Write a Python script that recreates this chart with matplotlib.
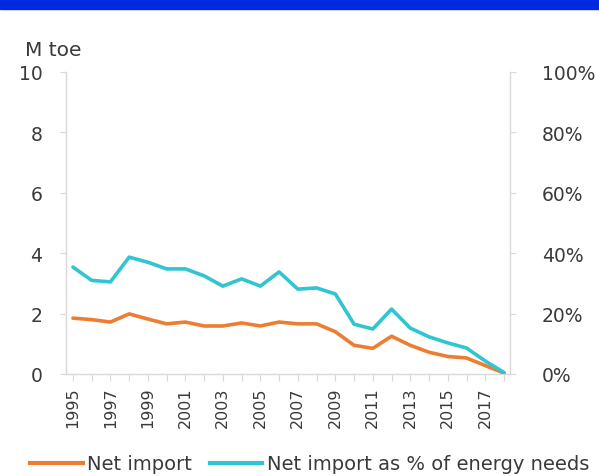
import matplotlib

matplotlib.use("Agg")

import matplotlib.pyplot as plt
from matplotlib.lines import Line2D

years = list(range(1995, 2019))
net_import = [1.85, 1.80, 1.72, 1.99, 1.82, 1.66, 1.72, 1.59, 1.59, 1.69, 1.59, 1.72,
              1.66, 1.66, 1.40, 0.95, 0.85, 1.25, 0.95, 0.72, 0.58, 0.53, 0.28, 0.03]
share_pct = [35.4, 31.0, 30.5, 38.7, 37.0, 34.8, 34.8, 32.5, 29.1, 31.5, 29.1, 33.8,
             28.1, 28.5, 26.5, 16.5, 14.9, 21.5, 15.2, 12.3, 10.3, 8.6, 4.3, 0.5]
left_ticks = [0, 2, 4, 6, 8, 10]
right_ticks = [0, 20, 40, 60, 80, 100]

ORANGE = "#ED7D31"
TEAL = "#30C5D0"
GREY = "#D9D9D9"
TXT = "#3A3A3A"

plt.rcParams["font.family"] = ["DejaVu Sans"]

fig = plt.figure(figsize=(5.99, 4.77), dpi=100)
fig.patch.set_facecolor("white")

# blue banner across the top
fig.add_artist(plt.Rectangle((0, 1 - 10 / 477), 1, 10 / 477, transform=fig.transFigure,
                             color="#0028E0", zorder=5))

ax = fig.add_axes([66 / 599, 1 - 375 / 477, 444 / 599, 302 / 477])
ax2 = ax.twinx()

ax.plot(years, net_import, color=ORANGE, lw=2.6, solid_capstyle="round", zorder=3)
ax2.plot(years, share_pct, color=TEAL, lw=2.6, solid_capstyle="round", zorder=3)

ax.set_xlim(1994.63, 2018.32)
ax.set_ylim(0, 10)
ax2.set_ylim(0, 100)
ax.set_yticks(left_ticks)
ax.set_yticklabels([str(v) for v in left_ticks])
ax2.set_yticks(right_ticks)
ax2.set_yticklabels([f"{v}%" for v in right_ticks])
ax.set_xticks(years)
ax.set_xticklabels([str(y) if (y - 1995) % 2 == 0 else "" for y in years], rotation=90)

for a in (ax, ax2):
    for s in a.spines.values():
        s.set_visible(False)
ax.spines["left"].set_visible(True)
ax.spines["bottom"].set_visible(True)
ax2.spines["right"].set_visible(True)
for s in (ax.spines["left"], ax.spines["bottom"], ax2.spines["right"]):
    s.set_color(GREY)
    s.set_linewidth(1.0)

ax.tick_params(axis="x", colors=GREY, labelcolor=TXT, labelsize=11.5, length=5, pad=4)
ax.tick_params(axis="y", colors=GREY, labelcolor=TXT, labelsize=13.5, length=4, pad=13)
ax2.tick_params(axis="y", colors=GREY, labelcolor=TXT, labelsize=13.5, length=4, pad=19)

fig.text(25 / 599, 1 - 50 / 477, "M toe", fontsize=14.5, color=TXT, va="center", ha="left")

handles = [Line2D([], [], color=ORANGE, lw=3),
           Line2D([], [], color=TEAL, lw=3)]
fig.legend(handles, ["Net import", "Net import as % of energy needs"],
           loc="center left", bbox_to_anchor=(30 / 599, 1 - 465 / 477), ncol=2,
           frameon=False, fontsize=14, handlelength=2.7, handletextpad=0.25,
           columnspacing=0.9, borderpad=0, borderaxespad=0, labelcolor=TXT)

fig.savefig("out.png", dpi=100)
